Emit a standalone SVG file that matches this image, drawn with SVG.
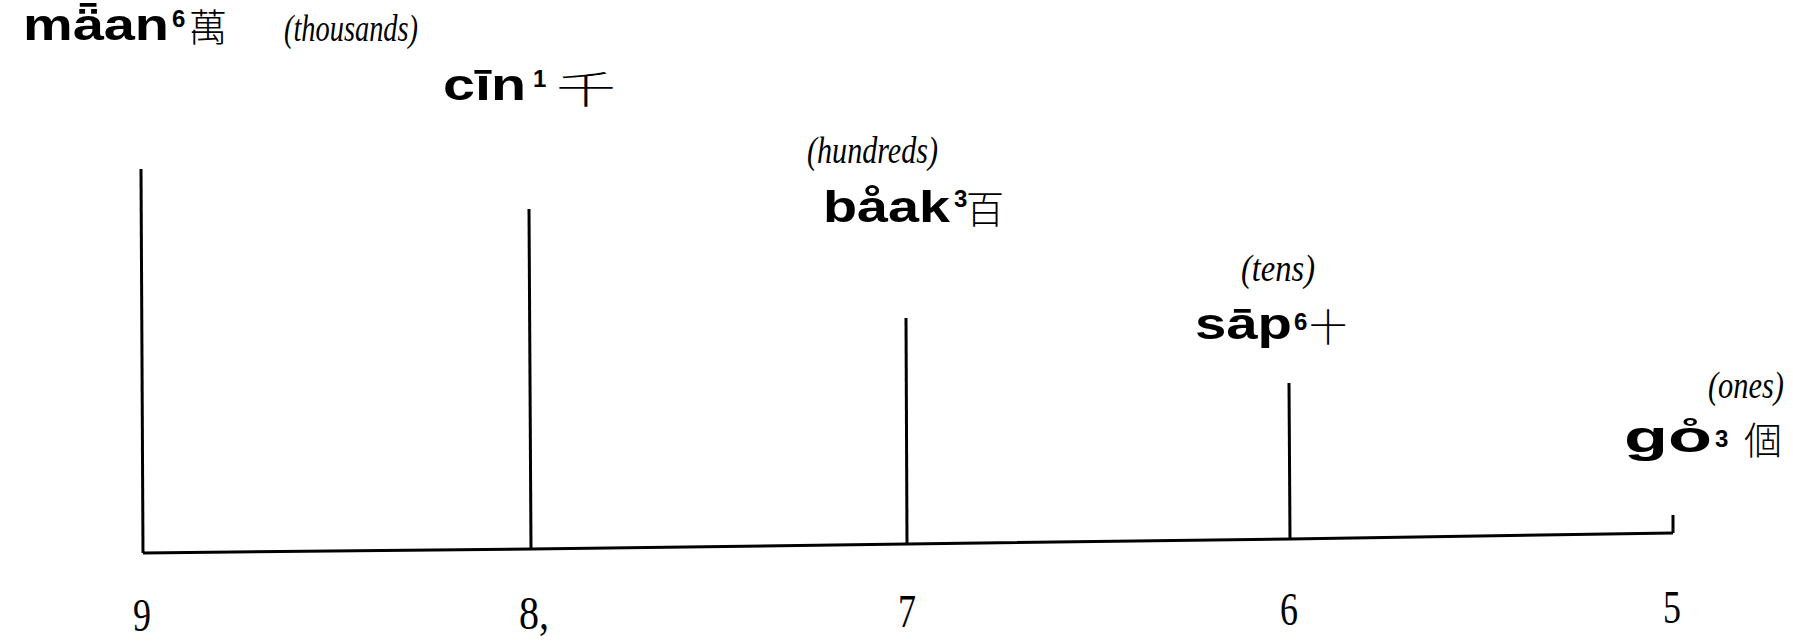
<svg xmlns="http://www.w3.org/2000/svg" width="1793" height="642" viewBox="0 0 1793 642">
<style>
.rom{font-family:"Liberation Sans","Noto Sans CJK TC",sans-serif;font-weight:bold;font-size:44px;fill:#000}
.sup{font-family:"Liberation Sans",sans-serif;font-weight:bold;font-size:24px;fill:#000}
.cjk{font-family:"Noto Sans CJK TC",sans-serif;font-weight:300;font-size:38px;fill:#000}
.it{font-family:"Liberation Serif",serif;font-style:italic;font-size:38px;fill:#000}
.num{font-family:"Liberation Serif",serif;font-size:46px;fill:#000;text-anchor:middle}
.ln{stroke:#000;stroke-width:3;fill:none}
</style>
<rect width="1793" height="642" fill="#fff"/>
<g id="connectors">
<line class="ln" x1="141" y1="169" x2="143" y2="553"/>
<line class="ln" x1="529" y1="209" x2="531" y2="549"/>
<line class="ln" x1="906" y1="318" x2="907" y2="544"/>
<line class="ln" x1="1289" y1="383" x2="1290" y2="539"/>
<line class="ln" x1="1673" y1="515" x2="1673" y2="533"/>
<polyline class="ln" points="143,553 531,549 907,544 1290,539 1673,533"/>
</g>
<g id="node-maan">
<text class="rom" x="23" y="40" textLength="146" lengthAdjust="spacingAndGlyphs">mǟan</text>
<text class="sup" x="172" y="27">6</text>
<text class="cjk" x="189" y="41">萬</text>
</g>
<g id="label-thousands"><text class="it" x="284" y="41" textLength="134" lengthAdjust="spacingAndGlyphs">(thousands)</text></g>
<g id="node-cin">
<text class="rom" x="443" y="100" textLength="83" lengthAdjust="spacingAndGlyphs">cīn</text>
<text class="sup" x="533" y="87">1</text>
<text class="cjk" x="556" y="103" font-size="42" textLength="60" lengthAdjust="spacingAndGlyphs">千</text>
</g>
<g id="label-hundreds"><text class="it" x="807" y="163" textLength="131" lengthAdjust="spacingAndGlyphs">(hundreds)</text></g>
<g id="node-baak">
<text class="rom" x="823" y="222" textLength="127" lengthAdjust="spacingAndGlyphs">båak</text>
<text class="sup" x="954" y="207">3</text>
<text class="cjk" x="966" y="223">百</text>
</g>
<g id="label-tens"><text class="it" x="1241" y="281" textLength="74" lengthAdjust="spacingAndGlyphs">(tens)</text></g>
<g id="node-sap">
<text class="rom" x="1195" y="339" textLength="97" lengthAdjust="spacingAndGlyphs">sāp</text>
<text class="sup" x="1294" y="330">6</text>
<text class="cjk" x="1309" y="341">十</text>
</g>
<g id="label-ones"><text class="it" transform="translate(1708,398) scale(0.8,1)" x="0" y="0">(ones)</text></g>
<g id="node-go">
<text class="rom" x="1624" y="452" textLength="88" lengthAdjust="spacingAndGlyphs">go̊</text>
<text class="sup" x="1715" y="447">3</text>
<text class="cjk" x="1744" y="454">個</text>
</g>
<g id="numbers">
<text class="num" x="142" y="631" textLength="18" lengthAdjust="spacingAndGlyphs">9</text>
<text class="num" x="534" y="629" textLength="30" lengthAdjust="spacingAndGlyphs">8,</text>
<text class="num" x="907" y="627" textLength="18" lengthAdjust="spacingAndGlyphs">7</text>
<text class="num" x="1289" y="625" textLength="18" lengthAdjust="spacingAndGlyphs">6</text>
<text class="num" x="1672" y="623" textLength="18" lengthAdjust="spacingAndGlyphs">5</text>
</g>
</svg>
